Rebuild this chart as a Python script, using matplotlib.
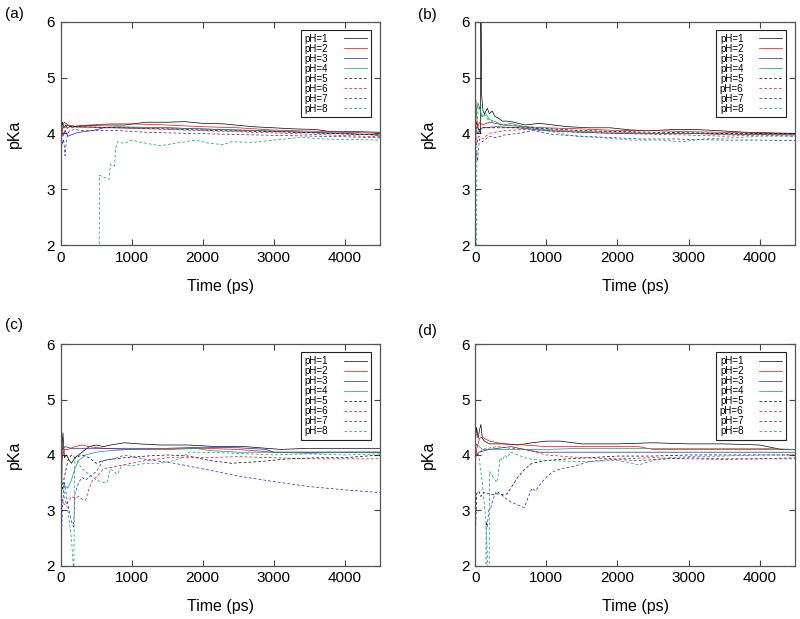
import numpy as np
import matplotlib
matplotlib.use('Agg')
import matplotlib.pyplot as plt

plt.rcParams['font.family'] = ['Liberation Sans', 'DejaVu Sans']

labels = ['pH=1', 'pH=2', 'pH=3', 'pH=4', 'pH=5', 'pH=6', 'pH=7', 'pH=8']
colors = ['#000000', '#ff0000', '#2020d0', '#00a070', '#000000', '#ff0000', '#2020d0', '#00a070']
styles = ['-', '-', '-', '-', (0, (4, 3)), (0, (4, 3)), (0, (4, 3)), (0, (4, 3))]
panel_names = ['(a)', '(b)', '(c)', '(d)']

# ---- panel (a)
a_t1 = [0, 10, 20, 40, 80, 150, 250, 400, 600, 900, 1200, 1500, 1750, 2000, 2300, 2700, 3000, 3300, 3600, 3800, 4200, 4500]
a_p1 = [4.35, 4.0, 4.2, 4.1, 4.15, 4.12, 4.13, 4.14, 4.15, 4.15, 4.2, 4.2, 4.21, 4.18, 4.17, 4.12, 4.1, 4.08, 4.07, 4.03, 4.03, 4.02]
a_t2 = [0, 20, 50, 100, 200, 400, 700, 1000, 1500, 2000, 2500, 3000, 3500, 4000, 4500]
a_p2 = [4.2, 4.05, 4.2, 4.15, 4.13, 4.15, 4.17, 4.17, 4.15, 4.12, 4.1, 4.06, 4.04, 4.02, 4.0]
a_t3 = [0, 30, 60, 100, 200, 300, 450, 600, 900, 1500, 2000, 2500, 3000, 3500, 4000, 4500]
a_p3 = [4.1, 3.95, 4.05, 3.95, 4.0, 4.03, 4.05, 4.1, 4.1, 4.1, 4.08, 4.06, 4.04, 4.02, 4.0, 3.97]
a_t4 = [0, 20, 60, 150, 400, 800, 1500, 2200, 3000, 3800, 4500]
a_p4 = [4.05, 4.15, 4.1, 4.12, 4.1, 4.12, 4.1, 4.07, 4.04, 4.0, 3.97]
a_t5 = [0, 20, 80, 300, 800, 1500, 2200, 3000, 3800, 4500]
a_p5 = [4.1, 4.2, 4.12, 4.12, 4.1, 4.08, 4.05, 4.03, 4.0, 3.97]
a_t6 = [0, 30, 100, 300, 800, 1500, 2200, 3000, 3800, 4500]
a_p6 = [4.15, 4.0, 4.1, 4.12, 4.1, 4.07, 4.04, 4.01, 3.97, 3.94]
a_t7 = [0, 20, 40, 60, 80, 120, 200, 300, 500, 800, 1200, 1800, 2500, 3200, 4000, 4500]
a_p7 = [4.2, 3.8, 3.9, 3.6, 3.9, 4.05, 4.07, 4.05, 4.05, 4.05, 4.02, 4.0, 3.98, 3.96, 3.94, 3.92]
a_t8 = [540, 545, 600, 680, 700, 760, 770, 800, 900, 1000, 1100, 1300, 1400, 1600, 1900, 2100, 2300, 2400, 2700, 3000, 3400, 3700, 4500]
a_p8 = [1.5, 3.25, 3.22, 3.18, 3.45, 3.42, 3.72, 3.85, 3.82, 3.88, 3.85, 3.8, 3.78, 3.82, 3.88, 3.82, 3.8, 3.85, 3.84, 3.88, 3.93, 3.9, 3.88]

# ---- panel (b)
b_t1 = [0, 20, 40, 75, 80, 90, 110, 130, 170, 200, 240, 280, 320, 380, 450, 550, 700, 900, 1100, 1300, 1600, 1900, 2200, 2500, 2800, 3100, 3400, 3800, 4500]
b_p1 = [4.1, 4.2, 4.1, 4.0, 6.5, 4.7, 4.4, 4.35, 4.45, 4.35, 4.4, 4.3, 4.28, 4.22, 4.22, 4.2, 4.15, 4.18, 4.15, 4.12, 4.1, 4.1, 4.06, 4.05, 4.07, 4.07, 4.05, 4.02, 4.0]
b_t2 = [0, 10, 30, 60, 100, 200, 400, 700, 1000, 1500, 2000, 2500, 3000, 3500, 4000, 4500]
b_p2 = [4.0, 4.6, 4.1, 4.2, 4.15, 4.2, 4.15, 4.12, 4.1, 4.08, 4.05, 4.05, 4.03, 4.02, 4.0, 4.0]
b_t3 = [0, 30, 100, 300, 600, 1000, 1500, 2000, 3000, 4000, 4500]
b_p3 = [4.1, 4.0, 4.1, 4.12, 4.1, 4.05, 4.02, 4.0, 4.0, 3.98, 3.98]
b_t4 = [0, 20, 40, 60, 100, 150, 200, 300, 400, 500, 700, 900, 1200, 1600, 2000, 2500, 3000, 3500, 4000, 4500]
b_p4 = [4.2, 4.4, 4.55, 4.45, 4.3, 4.35, 4.25, 4.2, 4.15, 4.18, 4.12, 4.08, 4.05, 4.03, 4.02, 4.0, 4.0, 3.98, 3.98, 3.97]
b_t5 = [0, 30, 100, 300, 800, 1500, 2500, 3500, 4500]
b_p5 = [4.2, 4.05, 4.1, 4.1, 4.1, 4.05, 4.02, 4.0, 4.0]
b_t6 = [0, 20, 50, 100, 200, 400, 700, 1200, 2000, 3000, 3500, 4000, 4500]
b_p6 = [4.1, 3.8, 3.95, 3.9, 4.0, 4.05, 4.07, 4.03, 4.0, 3.97, 3.95, 3.97, 3.95]
b_t7 = [0, 10, 30, 60, 100, 200, 300, 400, 600, 800, 1100, 1500, 2000, 2300, 2800, 3500, 4000, 4500]
b_p7 = [3.4, 3.7, 3.5, 3.9, 3.85, 3.95, 3.92, 3.97, 4.0, 4.05, 3.98, 3.95, 3.92, 3.9, 3.9, 3.88, 3.88, 3.87]
b_t8 = [0, 20, 25, 40, 60, 80, 120, 180, 250, 350, 500, 700, 1000, 1400, 1800, 2200, 2600, 2900, 3200, 3600, 4000, 4500]
b_p8 = [1.5, 1.5, 4.2, 4.4, 4.5, 4.3, 4.35, 4.25, 4.2, 4.15, 4.15, 4.1, 4.05, 3.95, 3.92, 3.88, 3.88, 3.85, 3.9, 3.92, 3.95, 3.95]

# ---- panel (c)
c_t1 = [0, 10, 20, 30, 50, 80, 120, 150, 200, 300, 400, 500, 600, 700, 900, 1100, 1400, 1800, 2200, 2600, 2900, 3100, 3500, 4000, 4500]
c_p1 = [3.0, 3.0, 4.2, 4.4, 3.95, 4.0, 3.9, 3.85, 3.95, 4.05, 4.15, 4.18, 4.15, 4.18, 4.22, 4.2, 4.18, 4.18, 4.15, 4.15, 4.12, 4.1, 4.12, 4.12, 4.12]
c_t2 = [0, 20, 50, 100, 200, 300, 400, 600, 900, 1500, 2000, 2500, 3000, 3500, 4000, 4500]
c_p2 = [4.0, 3.95, 4.1, 4.1, 4.15, 4.18, 4.15, 4.12, 4.1, 4.1, 4.12, 4.1, 4.05, 4.05, 4.05, 4.05]
c_t3 = [0, 20, 60, 150, 300, 600, 1000, 1500, 2000, 2500, 2900, 3000, 3500, 4000, 4500]
c_p3 = [4.3, 4.1, 4.15, 4.12, 4.12, 4.12, 4.12, 4.12, 4.14, 4.13, 4.1, 4.05, 4.05, 4.05, 4.05]
c_t4 = [0, 20, 50, 100, 150, 200, 250, 350, 500, 700, 1000, 1500, 1900, 2100, 2500, 3000, 3500, 4000, 4500]
c_p4 = [3.5, 3.4, 3.45, 3.4, 3.55, 3.75, 3.9, 4.0, 4.05, 4.08, 4.1, 4.12, 4.12, 4.08, 4.05, 4.05, 4.03, 4.05, 4.05]
c_t5 = [0, 20, 50, 100, 150, 200, 300, 400, 450, 500, 600, 700, 900, 1200, 1500, 1800, 2100, 2400, 2800, 3200, 3600, 4000, 4500]
c_p5 = [3.2, 3.4, 3.6, 3.9, 4.0, 3.95, 4.0, 3.95, 3.9, 3.85, 3.9, 3.92, 3.95, 3.98, 4.0, 3.98, 3.9, 3.85, 3.88, 3.93, 3.95, 3.95, 4.0]
c_t6 = [0, 20, 50, 100, 150, 200, 250, 300, 350, 400, 450, 500, 600, 800, 1000, 1200, 1500, 2000, 2500, 3000, 3500, 4000, 4500]
c_p6 = [3.0, 3.2, 3.1, 3.15, 3.25, 3.22, 3.25, 3.2, 3.18, 3.4, 3.55, 3.6, 3.75, 3.8, 3.85, 3.9, 3.95, 3.95, 3.97, 3.95, 3.93, 3.93, 3.93]
c_t7 = [0, 20, 50, 100, 150, 180, 200, 250, 300, 350, 400, 450, 500, 600, 700, 800, 900, 1200, 1600, 2000, 2500, 3000, 3500, 4000, 4500]
c_p7 = [2.0, 3.0, 3.5, 3.1, 2.8, 2.7, 3.3, 3.5, 3.6, 3.55, 3.6, 3.65, 3.7, 3.9, 3.92, 3.95, 4.0, 3.92, 3.85, 3.75, 3.62, 3.52, 3.43, 3.37, 3.32]
c_t8 = [0, 30, 60, 100, 150, 185, 190, 200, 250, 300, 400, 500, 600, 650, 700, 750, 800, 850, 900, 1000, 1200, 1400, 1600, 1700, 1800, 2000, 2500, 3000, 3500, 4000, 4500]
c_p8 = [3.4, 3.5, 3.2, 3.0, 2.5, 1.8, 3.5, 3.95, 3.85, 3.75, 3.65, 3.55, 3.5, 3.5, 3.75, 3.7, 3.65, 3.8, 3.82, 3.8, 3.85, 3.85, 3.9, 3.95, 4.05, 4.05, 4.03, 4.0, 4.02, 4.0, 4.02]

# ---- panel (d)
d_t1 = [0, 20, 40, 60, 80, 100, 130, 200, 400, 600, 800, 1000, 1200, 1500, 2000, 2500, 3000, 3500, 4000, 4300, 4500]
d_p1 = [4.2, 4.5, 4.3, 4.45, 4.55, 4.3, 4.25, 4.2, 4.2, 4.18, 4.22, 4.25, 4.25, 4.2, 4.2, 4.22, 4.2, 4.2, 4.18, 4.1, 4.1]
d_t2 = [0, 20, 60, 100, 200, 400, 700, 1000, 1500, 2000, 2300, 2500, 3000, 3500, 4000, 4500]
d_p2 = [3.85, 4.1, 4.3, 4.32, 4.25, 4.2, 4.18, 4.15, 4.15, 4.15, 4.15, 4.1, 4.1, 4.1, 4.1, 4.1]
d_t3 = [0, 50, 200, 500, 700, 900, 1500, 2000, 2500, 3000, 4000, 4500]
d_p3 = [4.0, 4.05, 4.1, 4.15, 4.1, 4.05, 4.05, 4.05, 4.05, 4.05, 4.05, 4.05]
d_t4 = [0, 20, 100, 500, 1000, 1500, 2000, 3000, 4000, 4500]
d_p4 = [4.1, 4.2, 4.1, 4.1, 4.1, 4.12, 4.12, 4.12, 4.12, 4.1]
d_t5 = [0, 20, 50, 80, 120, 160, 200, 250, 300, 400, 450, 500, 600, 700, 800, 1000, 1300, 1600, 2000, 2500, 3000, 3500, 4000, 4500]
d_p5 = [2.4, 3.3, 3.35, 3.25, 3.33, 3.3, 3.3, 3.28, 3.3, 3.28, 3.3, 3.4, 3.6, 3.75, 3.85, 3.9, 3.93, 3.95, 3.98, 3.98, 4.0, 4.0, 4.0, 4.0]
d_t6 = [0, 30, 100, 300, 500, 700, 1000, 1500, 2000, 2500, 3000, 3500, 4000, 4500]
d_p6 = [4.1, 4.0, 4.1, 4.15, 4.12, 4.1, 4.0, 3.95, 3.93, 3.95, 3.93, 3.92, 3.93, 3.95]
d_t7 = [150, 155, 170, 190, 220, 250, 300, 400, 500, 600, 690, 750, 800, 850, 900, 1000, 1100, 1200, 1400, 1600, 1900, 2300, 3000, 3500, 4000, 4500]
d_p7 = [1.5, 2.8, 2.7, 3.0, 3.05, 3.2, 3.35, 3.25, 3.15, 3.1, 3.05, 3.25, 3.4, 3.35, 3.45, 3.6, 3.7, 3.75, 3.8, 3.88, 3.92, 3.9, 3.95, 3.93, 3.93, 3.93]
d_t8 = [0, 50, 100, 150, 195, 200, 230, 300, 320, 350, 380, 420, 450, 500, 600, 700, 800, 1000, 1500, 2000, 2200, 2300, 2500, 2700, 3000, 3500, 4000, 4500]
d_p8 = [4.1, 4.0, 3.5, 2.8, 1.5, 3.7, 3.65, 3.5, 3.6, 3.95, 3.9, 4.0, 3.95, 4.05, 4.0, 3.95, 3.92, 3.9, 3.88, 3.9, 3.85, 3.82, 3.9, 3.95, 3.97, 3.98, 4.0, 4.0]

panels = [
    [(a_t1, a_p1), (a_t2, a_p2), (a_t3, a_p3), (a_t4, a_p4), (a_t5, a_p5), (a_t6, a_p6), (a_t7, a_p7), (a_t8, a_p8)],
    [(b_t1, b_p1), (b_t2, b_p2), (b_t3, b_p3), (b_t4, b_p4), (b_t5, b_p5), (b_t6, b_p6), (b_t7, b_p7), (b_t8, b_p8)],
    [(c_t1, c_p1), (c_t2, c_p2), (c_t3, c_p3), (c_t4, c_p4), (c_t5, c_p5), (c_t6, c_p6), (c_t7, c_p7), (c_t8, c_p8)],
    [(d_t1, d_p1), (d_t2, d_p2), (d_t3, d_p3), (d_t4, d_p4), (d_t5, d_p5), (d_t6, d_p6), (d_t7, d_p7), (d_t8, d_p8)],
]

# axes boxes in figure fractions [left, bottom, width, height]
boxes = [[0.076, 0.604, 0.399, 0.361],
         [0.594, 0.604, 0.400, 0.361],
         [0.076, 0.086, 0.399, 0.358],
         [0.594, 0.086, 0.400, 0.358]]
label_pos = [(0.006, 0.978), (0.522, 0.975), (0.006, 0.475), (0.522, 0.465)]

fig = plt.figure(figsize=(8, 6.19), dpi=100)

for k in range(4):
    ax = fig.add_axes(boxes[k])
    for i in range(8):
        t, p = panels[k][i]
        ax.plot(t, p, color=colors[i], linestyle=styles[i], linewidth=0.5, label=labels[i])
    ax.set_xlim(0, 4500)
    ax.set_ylim(2, 6)
    ax.set_xticks([0, 1000, 2000, 3000, 4000])
    ax.set_yticks([2, 3, 4, 5, 6])
    ax.tick_params(direction='in', top=True, right=True, length=4.5, width=0.8,
                   color='#444444', labelsize=11, pad=4)
    for s in ax.spines.values():
        s.set_color('#555555')
        s.set_linewidth(0.9)
    ax.set_xlabel('Time (ps)', size=11.5)
    ax.set_ylabel('pKa', size=11.5)
    ax.xaxis.set_label_coords(0.5, -0.15)
    ax.yaxis.set_label_coords(-0.122, 0.5)
    leg = ax.legend(loc='upper right', bbox_to_anchor=(0.972, 0.964), borderaxespad=0,
                    fontsize=7, markerfirst=False, handlelength=2.4, handletextpad=1.6,
                    labelspacing=0.0, borderpad=0.4, fancybox=False, framealpha=1)
    leg.get_frame().set_edgecolor('#222222')
    leg.get_frame().set_linewidth(0.8)
    fig.text(label_pos[k][0], label_pos[k][1], panel_names[k], size=11, va='center')

fig.savefig('out.png', dpi=100)
